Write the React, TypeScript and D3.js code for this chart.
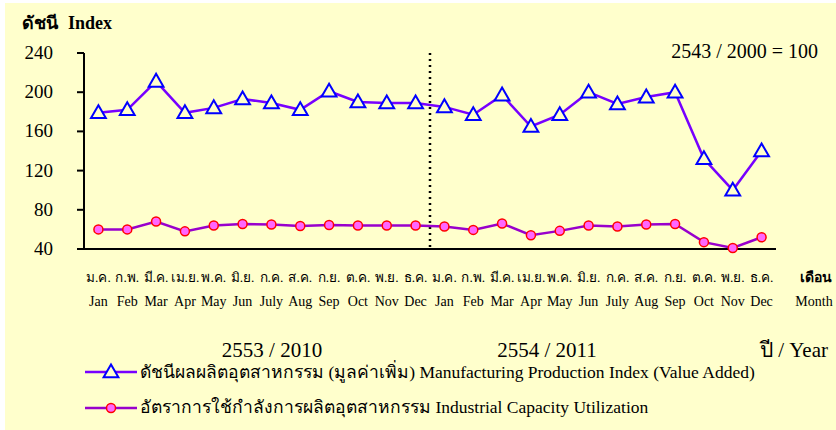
import React from "react";
import * as d3 from "d3";

const monthsTh = ["ม.ค.","ก.พ.","มี.ค.","เม.ย.","พ.ค.","มิ.ย.","ก.ค.","ส.ค.","ก.ย.","ต.ค.","พ.ย.","ธ.ค.","ม.ค.","ก.พ.","มี.ค.","เม.ย.","พ.ค.","มิ.ย.","ก.ค.","ส.ค.","ก.ย.","ต.ค.","พ.ย.","ธ.ค."];
const monthsEn = ["Jan","Feb","Mar","Apr","May","Jun","July","Aug","Sep","Oct","Nov","Dec","Jan","Feb","Mar","Apr","May","Jun","July","Aug","Sep","Oct","Nov","Dec"];
const mpi = [179,182,211,179,184,193,189,182,201,190,189,189,185,177,197,165,177,200,188,195,200,132,100,140];
const capu = [60,60,68,58,64,65.5,65,63.5,64.5,64,64,64,63,59.5,66,54,58.5,64,63,65,65.5,47,41,52];
const yTicks = [40,80,120,160,200,240];
const years = ["2553 / 2010","2554 / 2011"];

const FONT = "'Liberation Serif', 'Times New Roman', serif";

export default function App() {
  const W = 836, H = 430;
  const x0 = 84, x1 = 776, yTop = 53, yBot = 249;
  const x = d3.scaleBand<number>().domain(d3.range(24)).range([x0, x1]);
  const cx = (i: number) => (x(i) as number) + x.bandwidth() / 2;
  const y = d3.scaleLinear().domain([40, 240]).range([yBot, yTop]);
  const line = d3.line<number>().x((_, i) => cx(i)).y(d => y(d));
  const tri = d3.symbol().type(d3.symbolTriangle).size(95)();
  const divX = x(12) as number;

  return (
    <svg width={W} height={H} style={{ position: "absolute", left: 0, top: 0 }} fontFamily={FONT}>
      <rect x={0} y={0} width={W} height={H} fill="#ffffff" />
      <rect x={5} y={3} width={W - 5} height={H - 3} fill="#FFFFCC" />
      <text y={29} fontSize={18} fontWeight="bold" fill="#000">
        <tspan x={22}>ดัชนี</tspan>
        <tspan x={68}>Index</tspan>
      </text>
      <text x={818} y={58} fontSize={20} textAnchor="end" fill="#000">2543 / 2000 = 100</text>

      {/* y axis */}
      <line x1={x0} x2={x0} y1={yTop} y2={yBot} stroke="#000" strokeWidth={2} />
      {yTicks.map(t => (
        <g key={t}>
          <line x1={x0 - 7} x2={x0} y1={y(t)} y2={y(t)} stroke="#000" strokeWidth={2} />
          <text x={53} y={y(t) + 6} fontSize={19} textAnchor="end" fill="#000">{t}</text>
        </g>
      ))}
      {/* x axis */}
      <line x1={x0} x2={x1} y1={yBot} y2={yBot} stroke="#000" strokeWidth={2} />
      <line x1={divX} x2={divX} y1={yTop} y2={yBot} stroke="#000" strokeWidth={2.5} strokeDasharray="2,4" />

      <path d={line(capu) || ""} fill="none" stroke="#9900CC" strokeWidth={2.5} />
      <path d={line(mpi) || ""} fill="none" stroke="#7700FF" strokeWidth={2.5} />
      {capu.map((v, i) => (
        <circle key={i} cx={cx(i)} cy={y(v)} r={4.5} fill="#FF66FF" stroke="#FF0000" strokeWidth={1.5} />
      ))}
      {mpi.map((v, i) => (
        <path key={i} d={tri || ""} transform={`translate(${cx(i)},${y(v) + 1})`} fill="#FFFFCC" stroke="#0000FF" strokeWidth={2} />
      ))}

      {monthsTh.map((m, i) => (
        <text key={"t" + i} x={cx(i)} y={282} fontSize={13.5} textAnchor="middle" fill="#000">{m}</text>
      ))}
      {monthsEn.map((m, i) => (
        <text key={"e" + i} x={cx(i)} y={306} fontSize={14} textAnchor="middle" fill="#000">{m}</text>
      ))}
      <text x={816} y={282} fontSize={14} fontWeight="bold" textAnchor="middle" fill="#000">เดือน</text>
      <text x={814} y={306} fontSize={14} textAnchor="middle" fill="#000">Month</text>

      <text x={272} y={357} fontSize={21} textAnchor="middle" fill="#000">{years[0]}</text>
      <text x={547} y={357} fontSize={21} textAnchor="middle" fill="#000">{years[1]}</text>
      <text x={828} y={357} fontSize={21} textAnchor="end" fill="#000">ปี / Year</text>

      <line x1={85} x2={137} y1={372} y2={372} stroke="#7700FF" strokeWidth={2.5} />
      <path d={tri || ""} transform={`translate(111,373)`} fill="#FFFFCC" stroke="#0000FF" strokeWidth={2} />
      <text x={140} y={378} fontSize={17.5} fill="#000">ดัชนีผลผลิตอุตสาหกรรม (มูลค่าเพิ่ม) Manufacturing Production Index (Value Added)</text>
      <line x1={85} x2={137} y1={408} y2={408} stroke="#9900CC" strokeWidth={2.5} />
      <circle cx={111} cy={408} r={4.5} fill="#FF66FF" stroke="#FF0000" strokeWidth={1.5} />
      <text x={140} y={413} fontSize={17.5} fill="#000">อัตราการใช้กำลังการผลิตอุตสาหกรรม Industrial Capacity Utilization</text>
    </svg>
  );
}
